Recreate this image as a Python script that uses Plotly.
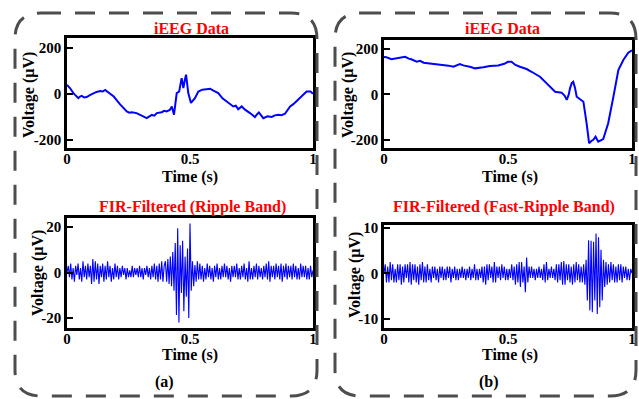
import numpy as np
import plotly.graph_objects as go

W, H = 639, 399

# ---- (a) raw iEEG trace ----
t_raw_a = [0, 0.012, 0.026, 0.036, 0.046, 0.053, 0.06, 0.07, 0.08, 0.093, 0.107, 0.12, 0.135,
           0.145, 0.155, 0.17, 0.19, 0.215, 0.243, 0.253, 0.263, 0.283, 0.295, 0.305, 0.324,
           0.335, 0.345, 0.355, 0.365, 0.385, 0.395, 0.405, 0.418, 0.426, 0.435, 0.446,
           0.456, 0.466, 0.473, 0.479, 0.484, 0.493, 0.504, 0.52, 0.534, 0.55, 0.568,
           0.582, 0.595, 0.615, 0.632, 0.649, 0.662, 0.676, 0.686, 0.696, 0.71, 0.725,
           0.744, 0.764, 0.772, 0.78, 0.798, 0.815, 0.832, 0.845, 0.859, 0.872, 0.886,
           0.907, 0.92, 0.94, 0.958, 0.974, 0.99, 1.0]
v_raw_a = [39, 25, 3, -10, -19, -12, -9, -16, -14, -6, 3, 8, 12,
           10, 17, 5, -12, -45, -77, -82, -80, -84, -90, -96, -106,
           -98, -92, -95, -84, -80, -74, -77, -70, -55, -91, 3,
           10, 68, 25, 60, 83, 3, -40, -19, 10, 18, 20,
           22, 14, 3, -20, -33, -42, -55, -52, -67, -55, -70,
           -84, -101, -90, -81, -106, -98, -101, -94, -91, -93, -87,
           -55, -45, -26, -8, 10, 10, 0]

# ---- (b) raw iEEG trace ----
t_raw_b = [0, 0.01, 0.03, 0.05, 0.07, 0.085, 0.1, 0.11, 0.132, 0.145, 0.16, 0.185, 0.21,
           0.239, 0.26, 0.28, 0.306, 0.32, 0.335, 0.35, 0.367, 0.385, 0.4, 0.427, 0.46,
           0.485, 0.5, 0.514, 0.53, 0.548, 0.575, 0.595, 0.612, 0.629, 0.656, 0.675, 0.69,
           0.716, 0.728, 0.737, 0.745, 0.75, 0.757, 0.763, 0.77, 0.777, 0.79, 0.804, 0.817,
           0.827, 0.836, 0.844, 0.853, 0.864, 0.884, 0.904, 0.925, 0.945, 0.965, 0.985, 1.0]
v_raw_b = [165, 164, 155, 159, 162, 166, 158, 155, 144, 148, 140, 137, 133,
           130, 127, 122, 134, 128, 125, 121, 115, 119, 120, 125, 128,
           135, 144, 144, 130, 122, 112, 100, 90, 78, 49, 28, 12,
           8, -5, -24, 0, 27, 50, 56, 30, -10, -21, -32, -127,
           -215, -205, -200, -186, -208, -197, -127, -10, 108, 152, 184, 195]

# ---- FIR-filtered traces, sampled every 5 ms ----
fs = 200
rip_a = [
    0, 3, -2, 4, -3, 2, -4, 3, -1, 4, -3, 2, -4, 5, -2, 3, -3, 4, -2, 3,
    -5, 6, -4, 5, -3, 4, -5, 3, -2, 4, -4, 3, -3, 5, -2, 3, -4, 2, -3, 4,
    -2, 3, -3, 2, -2, 3, -1, 2, -3, 2, -2, 1, -2, 3, -2, 2, -1, 2, -2, 3,
    -2, 2, -3, 2, -1, 3, -2, 2, -3, 3, -2, 4, -3, 3, -4, 4, -3, 5, -4, 3,
    5, -4, 6, -5, 7, -6, 9, -8, 13, -18.7, 19.5, -22, 12, -9, 14, -17, 7, -10.6, 10.6, -20,
    21.6, -8, 5, -6, 3.3, -4, 5, -3, 4, -3, 3, -4, 2, -3, 4, -2, 3, -3, 2, -4,
    3, -2, 4, -3, 2, -3, 3, -2, 4, -2, 3, -3, 2, -4, 3, -2, 3, -2, 4, -3,
    2, -3, 3, -2, 4, -3, 2, -4, 5, -3, 2, -3, 3, -2, 4, -3, 3, -2, 2, -3,
    3, -2, 4, -3, 5, -4, 3, -2, 3, -3, 4, -2, 3, -3, 4, -4, 3, -2, 4, -3,
    3, -2, 3, -3, 4, -2, 3, -3, 2, -3, 4, -2, 3, -2, 3, -3, 2, -3, 3, -2,
    1,
]
fr_b = [
    0, 2, -2, 1.5, -2, 2.5, -1.5, 2, -2, 1, -2, 2, -1.5, 2, -2.5, 1.5, -2, 2, -1, 2,
    -2, 2.5, -2.5, 2, -1.5, 2, -2, 1.5, -2.5, 2, -1.5, 2.5, -2, 1.5, -2, 2, -1.5, 1, -2, 1.5,
    -1, 1.5, -1.5, 1, -2, 1.5, -1, 1.5, -1.5, 1, -1.5, 1.5, -1, 1.5, -2, 1, -1, 1.5, -1.5, 1,
    -1.5, 1, -1, 1.5, -1, 1, -1.5, 1, -1, 1.5, -1.5, 1, -1, 2, -1.5, 1, -1.5, 1, -1, 1.5,
    -2, 1.5, -2.5, 2, -1.5, 2, -1, 1.5, -2, 2.5, -2, 1.5, -1, 1.5, -1.5, 2, -1, 1.5, -1.5, 1,
    -1.5, 1, -1, 2, -1.5, 1.5, -2.5, 2, -2, 2.5, -3, 2.5, -2, 1.5, -4.2, 3.5, -2, 1.5, -1, 1.5,
    -1, 1, -1.5, 1, -1, 1.5, -1, 1, -1.5, 2, -2, 2.5, -1.5, 1, -1, 1.5, -1, 1, -1.5, 2,
    -2, 2, -1.5, 2.5, -2.5, 2.7, -2.5, 2, -1.5, 2, -2, 1.5, -2.5, 2, -2, 2.5, -1.5, 2, -2, 1.5,
    -2, 2, -2.5, 3, -6, 7.3, -8.2, 7.2, -8.6, 7, -6, 8.8, -9, 8, -7.5, 5.2, -6, 3, -3, 2.5,
    -2.5, 2, -2, 2.5, -1.5, 2, -2, 1.5, -2, 2, -1.5, 2, -2, 1.5, -1, 1.5, -1.5, 1, -1.5, 1,
    0,
]
t_filt = np.arange(len(rip_a)) / fs

titles = ["iEEG Data", "iEEG Data", "FIR-Filtered (Ripple Band)", "FIR-Filtered (Fast-Ripple Band)"]
panel_tags = ["(a)", "(b)"]
y_ticks = [[-200, 0, 200], [-200, 0, 200], [-20, 0, 20], [-10, 0, 10]]
y_ranges = [[-236, 243], [-236, 240], [-24.4, 24], [-12.1, 10.7]]


def px(x):
    return x / W


def py(y):
    return 1 - y / H


# plot boxes in pixels: (left, top, right, bottom)
boxes = [(67, 38, 313, 148), (384, 40, 632, 148), (67, 218, 313, 328), (384, 225, 632, 328)]

SERIF = "Liberation Serif, Times New Roman, serif"
fig = go.Figure()

series = [(t_raw_a, v_raw_a, 2), (t_raw_b, v_raw_b, 2), (t_filt, rip_a, 1.1), (t_filt, fr_b, 1.1)]
for i, (tx, vy, lw) in enumerate(series):
    n = "" if i == 0 else str(i + 1)
    fig.add_trace(go.Scatter(x=tx, y=vy, mode="lines", line=dict(color="#0000ff", width=lw),
                             xaxis="x" + n, yaxis="y" + n, showlegend=False, hoverinfo="skip"))
    l, t, r, b = boxes[i]
    fig.update_layout(**{
        "xaxis" + n: dict(domain=[px(l), px(r)], range=[0, 1], anchor="y" + n,
                          showline=True, mirror=True, linecolor="black", linewidth=2.6,
                          showgrid=False, zeroline=False, ticks="", ticklabelstandoff=-5,
                          tickvals=[0, 0.5, 1], ticktext=["0", "0.5", "1"],
                          tickfont=dict(family=SERIF, size=15, color="black", weight="bold")),
        "yaxis" + n: dict(domain=[py(b), py(t)], range=y_ranges[i], anchor="x" + n,
                          showline=True, mirror=True, linecolor="black", linewidth=2.6,
                          showgrid=False, zeroline=False, ticks="inside", ticklen=6,
                          tickwidth=2.4, tickcolor="black",
                          tickvals=y_ticks[i], ticktext=[str(v) for v in y_ticks[i]],
                          tickfont=dict(family=SERIF, size=15, color="black", weight="bold")),
    })

annotations = []
title_pos = [(191, 28), (502, 29), (192, 207), (504, 207)]
for (x, y), txt in zip(title_pos, titles):
    annotations.append(dict(x=px(x), y=py(y), xref="paper", yref="paper", text=txt,
                            showarrow=False, xanchor="center", yanchor="middle",
                            font=dict(family=SERIF, size=16, color="#ff0000", weight="bold")))
for x, y in [(190, 177), (510, 177), (190, 355), (510, 355)]:
    annotations.append(dict(x=px(x), y=py(y), xref="paper", yref="paper", text="Time (s)",
                            showarrow=False, xanchor="center", yanchor="middle",
                            font=dict(family=SERIF, size=16, color="black", weight="bold")))
for x, y in [(29, 95), (348, 95), (38, 273), (355, 275)]:
    annotations.append(dict(x=px(x), y=py(y), xref="paper", yref="paper", text="Voltage (µV)",
                            showarrow=False, textangle=-90, xanchor="center", yanchor="middle",
                            font=dict(family=SERIF, size=16, color="black", weight="bold")))
for (x, y), txt in zip([(164, 382), (489, 382)], panel_tags):
    annotations.append(dict(x=px(x), y=py(y), xref="paper", yref="paper", text=txt,
                            showarrow=False, xanchor="center", yanchor="middle",
                            font=dict(family=SERIF, size=16, color="black", weight="bold")))


def rounded_rect(x0, y0, x1, y1, r):
    pts = [
        ("M", (x0 + r, y0)), ("L", (x1 - r, y0)), ("Q", (x1, y0), (x1, y0 + r)),
        ("L", (x1, y1 - r)), ("Q", (x1, y1), (x1 - r, y1)), ("L", (x0 + r, y1)),
        ("Q", (x0, y1), (x0, y1 - r)), ("L", (x0, y0 + r)), ("Q", (x0, y0), (x0 + r, y0)),
    ]
    out = []
    for cmd, *ps in pts:
        out.append(cmd + " " + " ".join(f"{px(a):.5f},{py(b):.5f}" for a, b in ps))
    return " ".join(out)


shapes = []
for x0, x1 in [(15, 317), (335, 636)]:
    shapes.append(dict(type="path", xref="paper", yref="paper",
                       path=rounded_rect(x0, 13, x1, 396, 26),
                       line=dict(color="#4d4d4d", width=3, dash="20px,14px")))

fig.update_layout(width=W, height=H, autosize=False, template="none",
                  margin=dict(l=0, r=0, t=0, b=0), paper_bgcolor="white", plot_bgcolor="white",
                  annotations=annotations, shapes=shapes)

fig.write_html("out.html")
